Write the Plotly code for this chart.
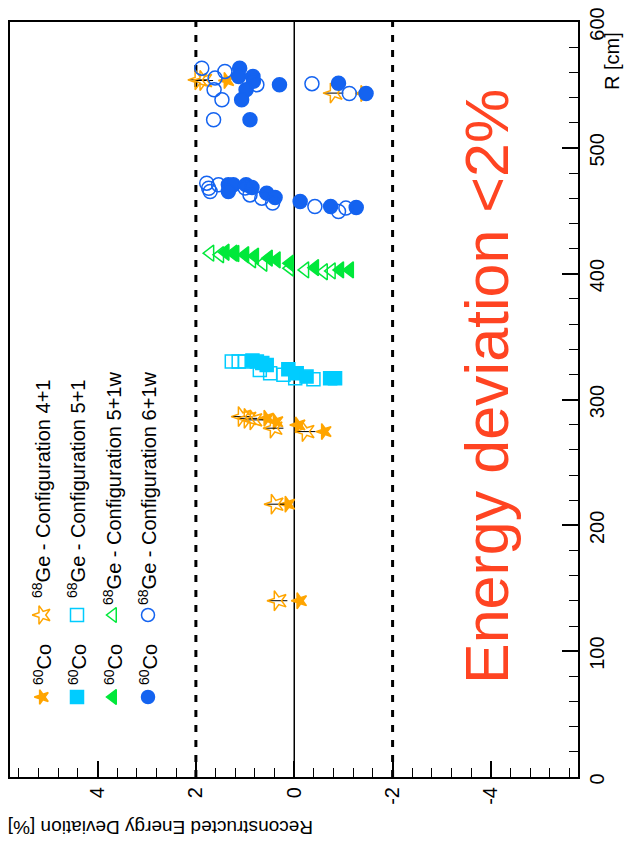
import plotly.graph_objects as go

# ---------------- data (R [cm], deviation [%]) ----------------
co_41_R = [140.1, 216.8, 285.1, 282.4, 279.8, 274.5, 553.5, 543.2]
co_41_D = [-0.11, 0.13, 0.56, 0.37, -0.08, -0.61, 1.37, -1.41]
ge_41_R = [140.1, 216.8, 286.4, 285.0, 283.8, 277.2, 274.5, 554.0, 553.5, 543.5]
ge_41_D = [0.34, 0.40, 1.07, 0.95, 0.83, 0.42, -0.23, 1.95, 1.85, -0.80]
ge_41_err = 0.2

co_51_R = [331.0, 330.1, 329.0, 327.5, 324.1, 320.9, 318.2, 316.9, 316.9]
co_51_D = [0.85, 0.76, 0.65, 0.56, 0.12, -0.05, -0.25, -0.73, -0.83]
ge_51_R = [330.1, 330.1, 330.1, 323.5, 320.9, 319.6, 316.9, 316.1]
ge_51_D = [1.27, 1.13, 1.00, 0.70, 0.49, 0.22, -0.02, -0.39]

co_51w_R = [417.0, 416.3, 416.0, 415.0, 414.0, 412.3, 411.0, 408.3, 404.8, 403.0, 403.0]
co_51w_D = [1.40, 1.24, 1.20, 1.00, 0.80, 0.52, 0.36, 0.09, -0.42, -0.93, -1.13]
ge_51w_R = [416.3, 415.0, 411.0, 408.3, 404.4, 403.0, 402.2, 401.5]
ge_51w_D = [1.71, 1.51, 0.86, 0.63, 0.09, -0.22, -0.76, -0.60]

co_61w_R = [470.6, 470.6, 465.3, 470.6, 468.4, 464.0, 460.5, 457.3, 453.3, 452.5,
            563.3, 556.7, 556.7, 552.9, 546.1, 538.2, 522.3, 550.2, 551.4, 543.2]
co_61w_D = [1.34, 1.24, 1.34, 0.98, 0.86, 0.56, 0.39, -0.12, -0.74, -1.26,
            1.11, 1.13, 0.84, 0.83, 0.98, 1.07, 0.90, 0.30, -0.90, -1.46]
ge_61w_R = [471.9, 467.9, 465.3, 470.6, 468.0, 462.6, 460.0, 456.1, 453.3, 449.4, 452.1,
            563.3, 555.4, 560.7, 546.1, 538.2, 522.3, 550.2, 551.0, 543.2]
ge_61w_D = [1.78, 1.74, 1.71, 1.54, 1.00, 0.90, 0.66, 0.44, -0.42, -0.90, -1.05,
            1.88, 1.61, 1.41, 1.63, 1.47, 1.64, 0.76, -0.36, -1.12]

x_ticks = [4, 2, 0, -2, -4]
r_ticks = [0, 100, 200, 300, 400, 500, 600]
configs = ["4+1", "5+1", "5+1w", "6+1w"]

ORANGE = "#FFA500"
CYAN = "#00CCFF"
GREEN = "#00E83A"
BLUE = "#1463F0"
RED = "#FF4422"
FONT = "Liberation Sans, Arial, sans-serif"

# page has an 8px body margin; figure sized so plot frame lands at x 10..578, y 22..777
W, H = 620, 838
L, R_, T, B = 2, 50, 14, 69
X0, X1, Y0, Y1 = 10, 578, 22, 777   # frame in screen pixels


def px(xs):
    return (xs - X0) / (X1 - X0)


def py(ys):
    return (Y1 - ys) / (Y1 - Y0)


fig = go.Figure()

series = [
    (co_41_D, co_41_R, "star", -90, ORANGE, 12, None),
    (ge_41_D, ge_41_R, "star-open", -90, ORANGE, 15, ge_41_err),
    (co_51_D, co_51_R, "square", 0, CYAN, 13, None),
    (ge_51_D, ge_51_R, "square-open", 0, CYAN, 13, None),
    (co_51w_D, co_51w_R, "triangle-left", 0, GREEN, 14, None),
    (ge_51w_D, ge_51w_R, "triangle-left-open", 0, GREEN, 14, None),
    (co_61w_D, co_61w_R, "circle", 0, BLUE, 14, None),
    (ge_61w_D, ge_61w_R, "circle-open", 0, BLUE, 14, None),
]
for d, r, sym, ang, col, sz, err in series:
    ex = None
    if err is not None:
        ex = dict(type="constant", value=err, color="black", thickness=1, width=0)
    fig.add_trace(go.Scatter(
        x=d, y=r, mode="markers", showlegend=False, error_x=ex,
        marker=dict(symbol=sym, angle=ang, color=col, size=sz,
                    line=dict(color=col, width=1.5)),
    ))

# legend markers on a pixel overlay axis
leg_x = [42, 77, 113, 148]
leg_sym = [("star", "star-open", -90, ORANGE, 11, 14),
           ("square", "square-open", 0, CYAN, 13, 13),
           ("triangle-left", "triangle-left-open", 0, GREEN, 13, 13),
           ("circle", "circle-open", 0, BLUE, 13, 13)]
for xl, (fs, os_, ang, col, s1, s2) in zip(leg_x, leg_sym):
    fig.add_trace(go.Scatter(x=[xl], y=[697], xaxis="x2", yaxis="y2", mode="markers",
                             showlegend=False, cliponaxis=False,
                             marker=dict(symbol=fs, angle=ang, color=col, size=s1,
                                         line=dict(color=col, width=1.5))))
    fig.add_trace(go.Scatter(x=[xl], y=[615], xaxis="x2", yaxis="y2", mode="markers",
                             showlegend=False, cliponaxis=False,
                             marker=dict(symbol=os_, angle=ang, color=col, size=s2,
                                         line=dict(color=col, width=1.5))))

annotations = []
for xl, cfg in zip(leg_x, configs):
    annotations.append(dict(x=px(xl), y=py(665), xref="paper", yref="paper",
                            text="<sup>60</sup>Co", textangle=-90, showarrow=False,
                            font=dict(family=FONT, size=20, color="black"),
                            xanchor="center", yanchor="middle"))
    annotations.append(dict(x=px(xl), y=py(489), xref="paper", yref="paper",
                            text="<sup>68</sup>Ge - Configuration " + cfg, textangle=-90,
                            showarrow=False, font=dict(family=FONT, size=20, color="black"),
                            xanchor="center", yanchor="middle"))

annotations.append(dict(x=px(487), y=py(387), xref="paper", yref="paper",
                        text="Energy deviation &lt;2%", textangle=-90, showarrow=False,
                        font=dict(family=FONT, size=61, color=RED),
                        xanchor="center", yanchor="middle"))
annotations.append(dict(x=px(161), y=py(827), xref="paper", yref="paper",
                        text="Reconstructed Energy Deviation [%]", textangle=180,
                        showarrow=False, font=dict(family=FONT, size=19, color="black"),
                        xanchor="center", yanchor="middle"))
annotations.append(dict(x=px(612), y=py(61), xref="paper", yref="paper",
                        text="R [cm]", textangle=-90, showarrow=False,
                        font=dict(family=FONT, size=20, color="black"),
                        xanchor="center", yanchor="middle"))

shapes = [
    dict(type="line", xref="x", yref="paper", x0=0, x1=0, y0=0, y1=1,
         line=dict(color="black", width=1.5), layer="below"),
    dict(type="line", xref="x", yref="paper", x0=2, x1=2, y0=0, y1=1,
         line=dict(color="black", width=3, dash="7px,8px"), layer="below"),
    dict(type="line", xref="x", yref="paper", x0=-2, x1=-2, y0=0, y1=1,
         line=dict(color="black", width=3, dash="7px,8px"), layer="below"),
]

fig.update_layout(
    width=W, height=H, margin=dict(l=L, r=R_, t=T, b=B, autoexpand=False),
    plot_bgcolor="white", paper_bgcolor="white",
    font=dict(family=FONT, size=20, color="black"),
    xaxis=dict(range=[5.78, -5.77], tickvals=x_ticks, ticktext=[str(v) for v in x_ticks],
               tickangle=-90, ticks="inside", ticklen=16, tickwidth=1.5, tickcolor="black",
               showline=True, mirror=True, linecolor="black", linewidth=2,
               showgrid=False, zeroline=False, automargin=False,
               ticklabeloverflow="allow",
               minor=dict(dtick=0.4, tick0=0, ticks="inside", ticklen=9, tickcolor="black",
                          tickwidth=1.2, showgrid=False),
               tickfont=dict(size=20)),
    yaxis=dict(range=[0, 600], side="right", tickvals=r_ticks, tickangle=-90,
               ticks="inside", ticklen=16, tickwidth=1.5, tickcolor="black",
               showline=True, mirror=True, linecolor="black", linewidth=2,
               showgrid=False, zeroline=False, automargin=False,
               ticklabeloverflow="allow", ticklabelshift=5,
               minor=dict(dtick=20, tick0=0, ticks="inside", ticklen=9, tickcolor="black",
                          tickwidth=1.2, showgrid=False),
               tickfont=dict(size=20)),
    xaxis2=dict(range=[X0, X1], overlaying="x", anchor="y2", visible=False),
    yaxis2=dict(range=[Y1, Y0], overlaying="y", anchor="x2", visible=False),
    annotations=annotations,
    shapes=shapes,
    showlegend=False,
)

fig.write_html("out.html")
